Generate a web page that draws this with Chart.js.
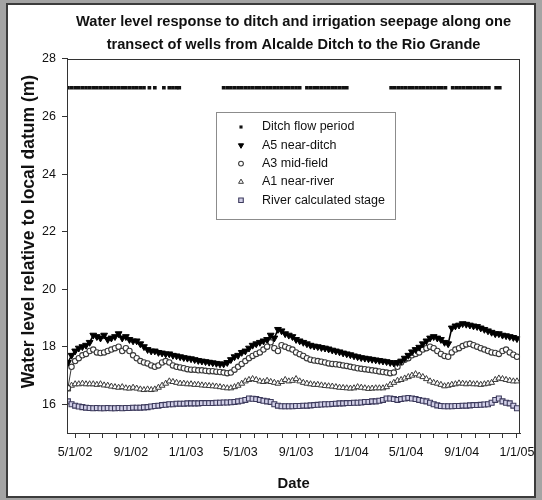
<!DOCTYPE html>
<html><head><meta charset="utf-8">
<script src="https://cdn.jsdelivr.net/npm/chart.js@4.4.1/dist/chart.umd.min.js"></script>
<style>
html,body{margin:0;padding:0;background:#a4a4a4;width:542px;height:500px;overflow:hidden;}
#frame{position:absolute;left:6px;top:3px;width:530px;height:495px;background:#fff;border:2px solid #3c3c3c;box-sizing:border-box;}
#wrap{position:absolute;left:0;top:0;width:542px;height:500px;}
</style></head><body>
<div id="frame"></div>
<div id="wrap"><canvas id="c" width="542" height="500"></canvas></div>
<script>
// Days since 5/1/02 for each well reading
const days = [
 -16,-8,0,8,16,24,32,40,48,56,
 64,72,80,88,96,104,112,120,128,136,
 144,152,160,168,176,184,192,200,208,216,
 224,232,240,248,256,264,272,280,288,296,
 304,312,320,328,336,344,352,360,368,376,
 384,392,400,408,416,424,432,440,448,456,
 464,472,480,488,496,504,512,520,528,536,
 544,552,560,568,576,584,592,600,608,616,
 624,632,640,648,656,664,672,680,688,696,
 704,712,720,728,736,744,752,760,768,776,
 784,792,800,808,816,824,832,840,848,856,
 864,872,880,888,896,904,912,920,928,936,
 944,952,960,968,976];

const a5NearDitch = [
 17.45,17.70,17.85,17.95,18.00,18.05,18.15,18.40,18.35,18.30,
 18.40,18.25,18.30,18.35,18.45,18.30,18.35,18.25,18.20,18.20,
 18.10,18.00,17.90,17.85,17.85,17.80,17.78,17.75,17.75,17.70,
 17.68,17.65,17.62,17.60,17.58,17.55,17.52,17.50,17.48,17.46,
 17.44,17.42,17.40,17.40,17.45,17.55,17.65,17.70,17.80,17.85,
 17.95,18.05,18.10,18.15,18.20,18.25,18.40,18.30,18.60,18.55,
 18.45,18.40,18.35,18.25,18.20,18.15,18.10,18.05,18.02,18.00,
 17.97,17.95,17.92,17.88,17.85,17.82,17.78,17.75,17.72,17.68,
 17.65,17.62,17.60,17.58,17.56,17.54,17.52,17.50,17.48,17.45,
 17.43,17.45,17.50,17.60,17.70,17.82,17.90,17.98,18.10,18.20,
 18.30,18.35,18.30,18.25,18.15,18.10,18.65,18.72,18.75,18.80,
 18.78,18.75,18.72,18.70,18.65,18.60,18.55,18.50,18.45,18.45,
 18.40,18.38,18.35,18.32,18.28];

const a3MidField = [
 16.56,17.30,17.50,17.60,17.70,17.75,17.85,17.90,17.80,17.78,
 17.80,17.85,17.90,17.95,18.00,17.85,17.95,17.85,17.70,17.60,
 17.50,17.45,17.42,17.35,17.30,17.35,17.45,17.50,17.45,17.35,
 17.30,17.28,17.25,17.22,17.20,17.20,17.18,17.18,17.16,17.15,
 17.15,17.13,17.12,17.10,17.08,17.10,17.20,17.30,17.40,17.50,
 17.60,17.68,17.75,17.80,17.90,18.00,18.15,17.95,17.85,18.05,
 18.00,17.95,17.90,17.80,17.74,17.68,17.60,17.55,17.52,17.50,
 17.48,17.45,17.42,17.40,17.39,17.37,17.35,17.33,17.30,17.28,
 17.25,17.23,17.22,17.20,17.18,17.16,17.14,17.12,17.10,17.08,
 17.10,17.30,17.45,17.55,17.60,17.70,17.75,17.80,17.90,17.95,
 18.00,17.95,17.85,17.75,17.68,17.65,17.80,17.90,17.95,18.02,
 18.08,18.10,18.05,18.00,17.95,17.90,17.85,17.80,17.78,17.75,
 17.85,17.90,17.80,17.72,17.65];

const a1NearRiver = [
 16.52,16.65,16.70,16.70,16.72,16.70,16.70,16.70,16.68,16.70,
 16.66,16.65,16.62,16.60,16.58,16.60,16.56,16.55,16.58,16.55,
 16.52,16.50,16.52,16.50,16.52,16.58,16.65,16.72,16.80,16.78,
 16.75,16.72,16.72,16.70,16.70,16.68,16.68,16.66,16.65,16.64,
 16.63,16.62,16.60,16.58,16.56,16.56,16.60,16.65,16.72,16.80,
 16.85,16.88,16.85,16.80,16.78,16.82,16.78,16.75,16.72,16.78,
 16.85,16.80,16.82,16.88,16.80,16.75,16.72,16.70,16.68,16.68,
 16.66,16.64,16.63,16.62,16.60,16.58,16.57,16.56,16.55,16.56,
 16.60,16.58,16.56,16.54,16.55,16.56,16.56,16.56,16.60,16.68,
 16.75,16.82,16.85,16.90,16.95,17.00,17.05,17.00,16.95,16.88,
 16.80,16.75,16.72,16.68,16.63,16.65,16.68,16.70,16.73,16.72,
 16.70,16.72,16.70,16.70,16.68,16.70,16.72,16.75,16.85,16.90,
 16.88,16.85,16.82,16.80,16.80];

const riverStage = [
 16.10,16.00,15.95,15.92,15.90,15.88,15.87,15.86,15.87,15.86,
 15.86,15.87,15.86,15.86,15.87,15.86,15.87,15.87,15.88,15.88,
 15.88,15.89,15.90,15.92,15.94,15.95,15.97,15.98,16.00,16.00,
 16.02,16.02,16.02,16.03,16.03,16.03,16.03,16.04,16.04,16.04,
 16.04,16.05,16.05,16.06,16.06,16.07,16.08,16.10,16.12,16.15,
 16.20,16.19,16.18,16.15,16.12,16.10,16.08,16.00,15.95,15.93,
 15.93,15.93,15.93,15.94,15.94,15.95,15.95,15.96,15.97,15.98,
 15.99,16.00,16.00,16.01,16.02,16.03,16.03,16.04,16.04,16.05,
 16.05,16.06,16.08,16.08,16.10,16.10,16.12,16.15,16.20,16.20,
 16.18,16.15,16.18,16.20,16.22,16.20,16.18,16.15,16.12,16.10,
 16.05,16.00,15.96,15.94,15.93,15.93,15.93,15.94,15.94,15.95,
 15.95,15.96,15.97,15.97,15.98,15.99,16.00,16.05,16.15,16.20,
 16.10,16.05,16.03,15.95,15.86];

// Days on which the ditch was flowing (plotted as a marker band)
const ditchFlowDays = [
 -16,-8,0,8,16,24,32,40,48,56,64,72,80,88,96,104,112,120,128,136,144,152,164,176,196,208,216,224,230,
 328,336,344,352,360,368,376,384,392,400,408,416,424,432,440,448,456,464,472,480,488,496,512,520,528,536,544,552,560,568,576,584,592,600,
 698,706,714,722,730,738,746,754,762,770,778,786,794,802,810,818,834,842,850,858,866,874,882,890,898,906,914,930,938];
const ditchBandLevel = 27;

// Axis ticks
const monthTickDays = [0,31,61,92,123,153,184,214,245,276,304,335,365,396,426,457,488,518,549,579,610,641,670,701,731,762,792,823,854,884,915,945,976];
const labelTickDays = [0,123,245,365,488,610,731,854,976];
const xTickLabels = ['5/1/02','9/1/02','1/1/03','5/1/03','9/1/03','1/1/04','5/1/04','9/1/04','1/1/05'];
const yTicks = [16,18,20,22,24,26,28];

const FONT = '"Liberation Sans", Arial, sans-serif';
const toPts = (xs, ys) => xs.map((x, i) => ({x: x, y: ys[i]}));

const datasets = [
  {label:'Ditch flow period', data: ditchFlowDays.map(d => ({x:d, y:ditchBandLevel})), showLine:false,
   pointStyle:'rect', pointRadius:2.6, backgroundColor:'#111', borderColor:'#111', pointBorderWidth:0, legendRadius:2.2},
  {label:'A5 near-ditch', data: toPts(days, a5NearDitch), showLine:true, borderWidth:1.6,
   pointStyle:'triangle', pointRotation:180, pointRadius:3.9, backgroundColor:'#000', borderColor:'#000', pointBorderWidth:1, legendRadius:3},
  {label:'A3 mid-field', data: toPts(days, a3MidField), showLine:true, borderWidth:1,
   pointStyle:'circle', pointRadius:2.7, backgroundColor:'#fff', borderColor:'#3a3a3a', pointBorderWidth:1.1, legendRadius:2.4},
  {label:'A1 near-river', data: toPts(days, a1NearRiver), showLine:true, borderWidth:1,
   pointStyle:'triangle', pointRadius:3.4, backgroundColor:'#fff', borderColor:'#3a3a3a', pointBorderWidth:1, legendRadius:2.8},
  {label:'River calculated stage', data: toPts(days, riverStage), showLine:true, borderWidth:1,
   pointStyle:'rect', pointRadius:3.5, backgroundColor:'#d2d0e8', borderColor:'#3c3a5c', pointBorderWidth:1.1, legendRadius:3.2}
];

const frameAndLegend = {
  id:'frameAndLegend',
  afterDatasetsDraw(chart){
    const {ctx, chartArea:a} = chart;
    ctx.save();
    // plot frame
    ctx.strokeStyle = '#333'; ctx.lineWidth = 1;
    ctx.strokeRect(Math.round(a.left)+0.5, Math.round(a.top)+0.5, Math.round(a.right-a.left)-1, Math.round(a.bottom-a.top));
    // legend box
    const x0 = Math.round(a.left) + 149, y0 = Math.round(a.top) + 53, w = 179, h = 107;
    ctx.fillStyle = '#fff'; ctx.fillRect(x0, y0, w, h);
    ctx.strokeStyle = '#8c8c8c'; ctx.strokeRect(x0+0.5, y0+0.5, w, h);
    chart.data.datasets.forEach((ds, i) => {
      const y = y0 + 15 + i * 18.3;
      ctx.fillStyle = ds.backgroundColor; ctx.strokeStyle = ds.borderColor; ctx.lineWidth = ds.pointBorderWidth || 1;
      Chart.helpers.drawPoint(ctx, {pointStyle: ds.pointStyle, rotation: ds.pointRotation || 0,
        radius: ds.legendRadius, borderWidth: ds.pointBorderWidth}, x0 + 25, y);
      ctx.fillStyle = '#111'; ctx.font = '12.5px ' + FONT; ctx.textBaseline = 'middle'; ctx.textAlign = 'left';
      ctx.fillText(ds.label, x0 + 46, y);
    });
    // y axis title, centred on the labelled range
    const ys = chart.scales.y;
    const yc = (ys.getPixelForValue(yTicks[0]) + ys.getPixelForValue(yTicks[yTicks.length-1])) / 2;
    ctx.translate(29.5, yc); ctx.rotate(-Math.PI/2);
    ctx.font = 'bold 17.5px ' + FONT; ctx.fillStyle = '#111'; ctx.textAlign = 'center'; ctx.textBaseline = 'middle';
    ctx.fillText('Water level relative to local datum (m)', 0, 0);
    ctx.restore();
  }
};

new Chart(document.getElementById('c'), {
  type:'scatter',
  data:{datasets},
  options:{
    responsive:false, animation:false,
    layout:{padding:{left:0, right:21, top:0, bottom:0}},
    plugins:{
      legend:{display:false}, tooltip:{enabled:false},
      title:{display:true, fullSize:false, text:['Water level response to ditch and irrigation seepage along one','transect of wells from Alcalde Ditch to the Rio Grande'],
        color:'#111', font:{family:FONT, size:14.6, weight:'bold', lineHeight:1.575}, padding:{top:10.5, bottom:2.5}}
    },
    scales:{
      x:{type:'linear', min:-18, max:983,
        afterBuildTicks: s => { s.ticks = monthTickDays.map(v => ({value:v})); },
        afterFit: s => { s.height = 67; },
        ticks:{autoSkip:false, maxRotation:0, padding:7.5, color:'#111', font:{family:FONT, size:12.5},
          callback: v => { const k = labelTickDays.indexOf(v); return k >= 0 ? xTickLabels[k] : ''; }},
        grid:{drawOnChartArea:false, drawTicks:true, tickLength:5, color:'#333'},
        border:{display:true, color:'#333'},
        title:{display:true, text:'Date', color:'#111', font:{family:FONT, size:14.8, weight:'bold'}, padding:{top:0, bottom:7}}
      },
      y:{type:'linear', min:15, max:28,
        afterBuildTicks: s => { s.ticks = yTicks.map(v => ({value:v})); },
        afterFit: s => { s.width = 67; },
        ticks:{padding:6, color:'#111', font:{family:FONT, size:12.5}},
        grid:{drawOnChartArea:false, drawTicks:true, tickLength:5, color:'#333'},
        border:{display:true, color:'#333'}
      }
    }
  },
  plugins:[frameAndLegend]
});
</script></body></html>
